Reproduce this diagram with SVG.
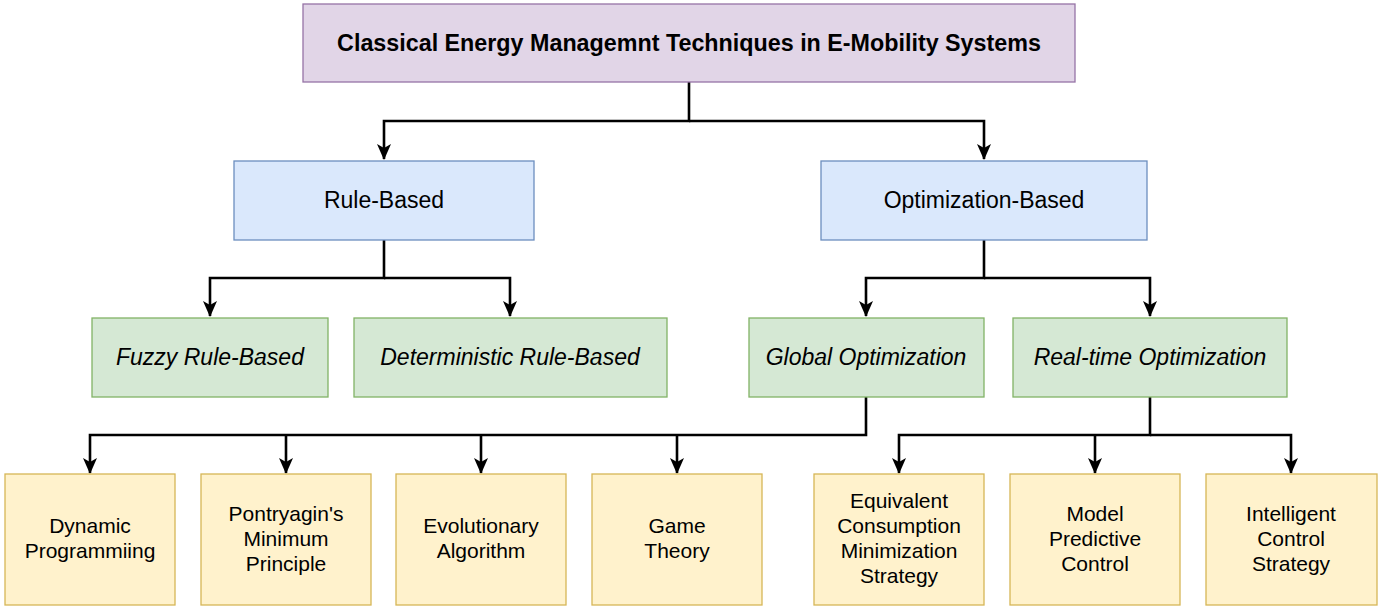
<svg xmlns="http://www.w3.org/2000/svg" width="1383" height="608" viewBox="0 0 1383 608">
<style>
  .box { stroke-width: 1.3; }
  .top { fill: #e1d5e7; stroke: #9673a6; }
  .l2 { fill: #dae8fc; stroke: #6c8ebf; }
  .l3 { fill: #d5e8d4; stroke: #82b366; }
  .l4 { fill: #fff2cc; stroke: #d6b656; }
  text { font-family: "Liberation Sans", Arial, Helvetica, sans-serif; fill: #000; text-anchor: middle; }
  .t1 { font-size: 23.3px; font-weight: bold; }
  .t2 { font-size: 23px; }
  .t3 { font-size: 23px; font-style: italic; }
  .t4 { font-size: 21px; }
  .edge { fill: none; stroke: #000; stroke-width: 2.6; stroke-linejoin: miter; }
</style>
<defs>
  <marker id="arrow" markerUnits="userSpaceOnUse" viewBox="0 0 16 14" refX="15" refY="7" markerWidth="16" markerHeight="14" orient="auto">
    <path d="M0,0 L16,7 L0,14 L4,7 Z" fill="#000"/>
  </marker>
</defs>

<g id="connectors">
  <path class="edge" d="M689,82 V121 H384 V159" marker-end="url(#arrow)"/>
  <path class="edge" d="M689,121 H984 V159" marker-end="url(#arrow)"/>
  <path class="edge" d="M384,240 V278 H210 V316" marker-end="url(#arrow)"/>
  <path class="edge" d="M384,278 H510 V316" marker-end="url(#arrow)"/>
  <path class="edge" d="M984,240 V278 H866 V316" marker-end="url(#arrow)"/>
  <path class="edge" d="M984,278 H1150 V316" marker-end="url(#arrow)"/>
  <path class="edge" d="M866,397 V435 H90 V473" marker-end="url(#arrow)"/>
  <path class="edge" d="M286,435 V473" marker-end="url(#arrow)"/>
  <path class="edge" d="M481,435 V473" marker-end="url(#arrow)"/>
  <path class="edge" d="M677,435 V473" marker-end="url(#arrow)"/>
  <path class="edge" d="M1150,397 V435 H899 V473" marker-end="url(#arrow)"/>
  <path class="edge" d="M1150,435 H1291 V473" marker-end="url(#arrow)"/>
  <path class="edge" d="M1095,435 V473" marker-end="url(#arrow)"/>
</g>

<g id="node-root">
  <rect class="box top" x="303" y="4" width="772" height="78"/>
  <text class="t1" x="689" y="51">Classical Energy Managemnt Techniques in E-Mobility Systems</text>
</g>

<g id="node-rule">
  <rect class="box l2" x="234" y="161" width="300" height="79"/>
  <text class="t2" x="384" y="208">Rule-Based</text>
</g>
<g id="node-opt">
  <rect class="box l2" x="821" y="161" width="326" height="79"/>
  <text class="t2" x="984" y="208">Optimization-Based</text>
</g>

<g id="node-fuzzy">
  <rect class="box l3" x="92" y="318" width="236" height="79"/>
  <text class="t3" x="210" y="365">Fuzzy Rule-Based</text>
</g>
<g id="node-deterministic">
  <rect class="box l3" x="354" y="318" width="313" height="79"/>
  <text class="t3" x="510" y="365">Deterministic Rule-Based</text>
</g>
<g id="node-global">
  <rect class="box l3" x="749" y="318" width="235" height="79"/>
  <text class="t3" x="866" y="365">Global Optimization</text>
</g>
<g id="node-realtime">
  <rect class="box l3" x="1013" y="318" width="274" height="79"/>
  <text class="t3" x="1150" y="365">Real-time Optimization</text>
</g>

<g id="node-dp">
  <rect class="box l4" x="5" y="474" width="170" height="131"/>
  <text class="t4" x="90" y="533">Dynamic</text>
  <text class="t4" x="90" y="558">Programmiing</text>
</g>
<g id="node-pmp">
  <rect class="box l4" x="201" y="474" width="170" height="131"/>
  <text class="t4" x="286" y="521">Pontryagin's</text>
  <text class="t4" x="286" y="546">Minimum</text>
  <text class="t4" x="286" y="571">Principle</text>
</g>
<g id="node-ea">
  <rect class="box l4" x="396" y="474" width="170" height="131"/>
  <text class="t4" x="481" y="533">Evolutionary</text>
  <text class="t4" x="481" y="558">Algorithm</text>
</g>
<g id="node-gt">
  <rect class="box l4" x="592" y="474" width="170" height="131"/>
  <text class="t4" x="677" y="533">Game</text>
  <text class="t4" x="677" y="558">Theory</text>
</g>
<g id="node-ecms">
  <rect class="box l4" x="814" y="474" width="170" height="131"/>
  <text class="t4" x="899" y="508">Equivalent</text>
  <text class="t4" x="899" y="533">Consumption</text>
  <text class="t4" x="899" y="558">Minimization</text>
  <text class="t4" x="899" y="583">Strategy</text>
</g>
<g id="node-mpc">
  <rect class="box l4" x="1010" y="474" width="170" height="131"/>
  <text class="t4" x="1095" y="521">Model</text>
  <text class="t4" x="1095" y="546">Predictive</text>
  <text class="t4" x="1095" y="571">Control</text>
</g>
<g id="node-ics">
  <rect class="box l4" x="1206" y="474" width="171" height="131"/>
  <text class="t4" x="1291" y="521">Intelligent</text>
  <text class="t4" x="1291" y="546">Control</text>
  <text class="t4" x="1291" y="571">Strategy</text>
</g>
</svg>
